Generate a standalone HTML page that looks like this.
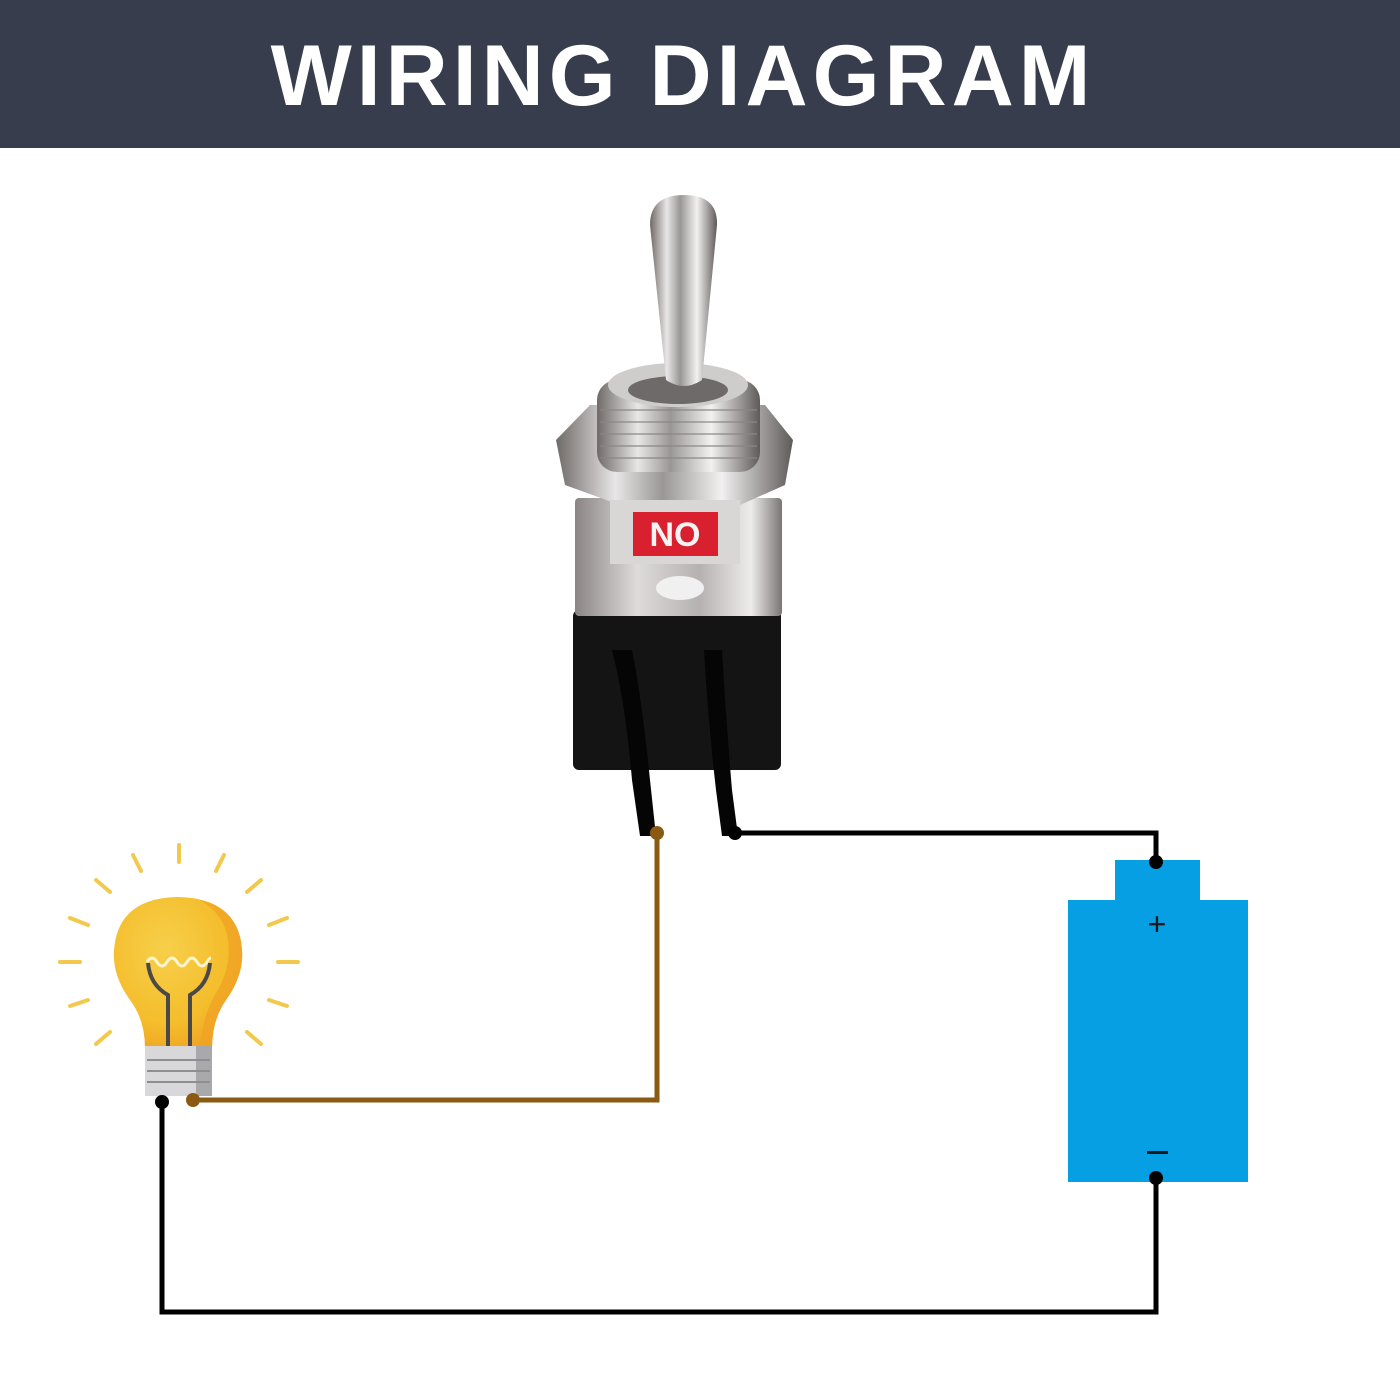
<!DOCTYPE html>
<html><head><meta charset="utf-8"><style>
html,body{margin:0;padding:0;background:#fff;}
svg{display:block}
</style></head><body>
<svg width="1400" height="1400" viewBox="0 0 1400 1400" xmlns="http://www.w3.org/2000/svg">
<defs>
<linearGradient id="met" x1="0" x2="1">
<stop offset="0" stop-color="#6f6a68"/><stop offset="0.25" stop-color="#e8e6e6"/><stop offset="0.45" stop-color="#9a9696"/><stop offset="0.7" stop-color="#f2f0f0"/><stop offset="1" stop-color="#5f5a5a"/>
</linearGradient>
<linearGradient id="met2" x1="0" x2="1">
<stop offset="0" stop-color="#8a8584"/><stop offset="0.3" stop-color="#dedbda"/><stop offset="0.6" stop-color="#b5b1b0"/><stop offset="0.85" stop-color="#eeeceb"/><stop offset="1" stop-color="#7a7574"/>
</linearGradient>
<radialGradient id="bulb" cx="0.4" cy="0.35" r="0.7">
<stop offset="0" stop-color="#f7cf4a"/><stop offset="0.7" stop-color="#f4bd2c"/><stop offset="1" stop-color="#f0a424"/>
</radialGradient>
</defs>
<rect x="0" y="0" width="1400" height="148" fill="#373d4d"/>
<text x="683" y="105" text-anchor="middle" font-family="Liberation Sans, sans-serif" font-weight="bold" font-size="86" fill="#fff" letter-spacing="5">WIRING DIAGRAM</text>

<g fill="none" stroke-linejoin="miter">
<polyline points="657,833 657,1100 193,1100" stroke="#8b5a12" stroke-width="5"/>
<polyline points="735,833 1156,833 1156,862" stroke="#000" stroke-width="5"/>
<polyline points="1156,1178 1156,1312 162,1312 162,1102" stroke="#000" stroke-width="5"/>
</g>

<rect x="573" y="610" width="208" height="160" rx="6" fill="#141414"/>
<path d="M612,650 Q625,700 632,780 L640,836 L656,836 L650,780 Q642,700 632,650 Z" fill="#050505"/>
<path d="M704,650 Q708,720 716,790 L722,836 L738,836 L732,790 Q726,720 722,650 Z" fill="#050505"/>
<rect x="575" y="498" width="207" height="118" rx="4" fill="url(#met2)"/>
<ellipse cx="680" cy="588" rx="24" ry="12" fill="#f0f0f0"/>
<path d="M556,440 L590,405 L765,405 L793,440 L785,485 L740,505 L620,505 L565,485 Z" fill="url(#met)"/>
<rect x="610" y="500" width="130" height="64" fill="#d9d6d6"/>
<rect x="633" y="512" width="85" height="44" fill="#d9202e"/>
<text x="675" y="546" text-anchor="middle" font-family="Liberation Sans, sans-serif" font-weight="bold" font-size="34" fill="#f4f4f4">NO</text>
<rect x="597" y="380" width="163" height="92" rx="20" fill="url(#met)"/>
<g stroke="#8a8686" stroke-width="2" opacity="0.6">
<line x1="600" y1="410" x2="757" y2="410"/><line x1="600" y1="422" x2="757" y2="422"/><line x1="600" y1="434" x2="757" y2="434"/><line x1="600" y1="446" x2="757" y2="446"/><line x1="600" y1="458" x2="757" y2="458"/>
</g>
<ellipse cx="678" cy="385" rx="70" ry="22" fill="#cfcccc"/>
<ellipse cx="678" cy="390" rx="50" ry="14" fill="#6e6a6a"/>
<path d="M650,225 Q650,195 684,195 Q718,195 717,225 L702,380 Q684,392 666,380 Z" fill="url(#met)"/>

<circle cx="657" cy="833" r="7" fill="#8b5a12"/>
<circle cx="735" cy="833" r="7" fill="#000"/>

<rect x="1115" y="860" width="85" height="44" fill="#079fe3"/>
<rect x="1068" y="900" width="180" height="282" fill="#079fe3"/>
<text x="1157" y="935" text-anchor="middle" font-family="Liberation Sans, sans-serif" font-size="32" fill="#1a1a1a">+</text>
<rect x="1147" y="1151" width="21" height="3" fill="#1a1a1a"/>
<circle cx="1156" cy="862" r="7" fill="#000"/>
<circle cx="1156" cy="1178" r="7" fill="#000"/>

<g stroke="#f2c94c" stroke-width="4" stroke-linecap="round">
<line x1="179" y1="845" x2="179" y2="862"/>
<line x1="133" y1="855" x2="141" y2="871"/>
<line x1="224" y1="855" x2="216" y2="871"/>
<line x1="96" y1="880" x2="110" y2="892"/>
<line x1="261" y1="880" x2="247" y2="892"/>
<line x1="70" y1="918" x2="88" y2="925"/>
<line x1="287" y1="918" x2="269" y2="925"/>
<line x1="60" y1="962" x2="80" y2="962"/>
<line x1="278" y1="962" x2="298" y2="962"/>
<line x1="70" y1="1006" x2="88" y2="1000"/>
<line x1="287" y1="1006" x2="269" y2="1000"/>
<line x1="96" y1="1044" x2="110" y2="1032"/>
<line x1="261" y1="1044" x2="247" y2="1032"/>
</g>
<path d="M145,1048 Q145,1020 130,1000 Q112,975 114,950 Q118,898 178,897 Q238,898 242,950 Q244,975 226,1000 Q212,1020 212,1048 Z" fill="url(#bulb)"/>
<path d="M200,900 Q240,910 242,950 Q244,975 226,1000 Q212,1020 212,1048 L200,1048 Q202,1018 215,995 Q232,968 228,940 Q225,915 200,900 Z" fill="#f0a424" opacity="0.8"/>
<g fill="none" stroke="#4b4848" stroke-width="4">
<path d="M148,963 Q150,985 168,995 L168,1046"/>
<path d="M210,963 Q208,985 190,995 L190,1046"/>
</g>
<path d="M147,962 q5,-8 10,0 q5,8 10,0 q5,-8 10,0 q5,8 10,0 q5,-8 10,0 q5,8 10,0 q2,-4 4,-4" fill="none" stroke="#fff5d0" stroke-width="3"/>
<rect x="145" y="1046" width="67" height="50" fill="#d8d8da"/>
<rect x="196" y="1046" width="16" height="50" fill="#a9a9ac"/>
<g stroke="#8e8e92" stroke-width="2">
<line x1="147" y1="1060" x2="210" y2="1060"/><line x1="147" y1="1071" x2="210" y2="1071"/><line x1="147" y1="1082" x2="210" y2="1082"/>
</g>
<circle cx="162" cy="1102" r="7" fill="#000"/>
<circle cx="193" cy="1100" r="7" fill="#8b5a12"/>
</svg>
</body></html>
